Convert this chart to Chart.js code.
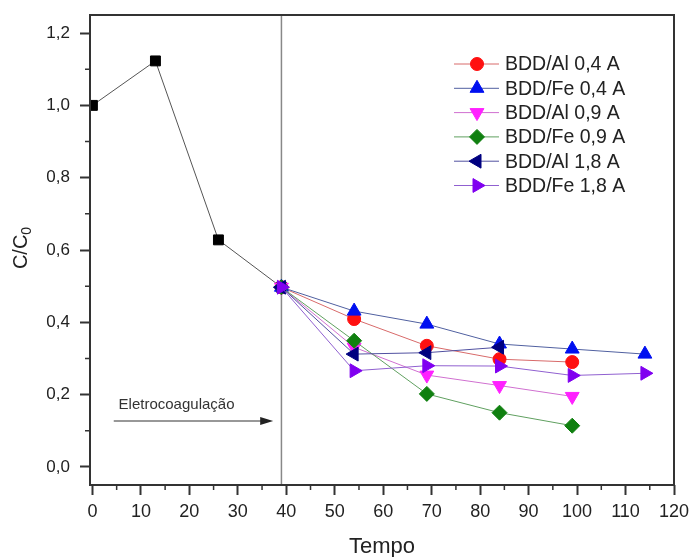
<!DOCTYPE html>
<html>
<head>
<meta charset="utf-8">
<script src="https://cdn.jsdelivr.net/npm/chart.js@4"></script>
<style>
  html, body { margin: 0; padding: 0; background: #fff; }
  #wrap { width: 692px; height: 557px; }
</style>
</head>
<body>
<div id="wrap"><canvas id="c"></canvas></div>
<script>
// times (x)
const preTimes = [0, 13, 26, 39];
const postTimes = [39, 54, 69, 84, 99, 114];
const preValues = [1.0, 1.123, 0.628, 0.497];   // black squares, before electrocoagulation ends

const al04 = [0.497, 0.409, 0.335, 0.298, 0.290];
const fe04 = [0.497, 0.431, 0.395, 0.340, 0.326, 0.312];
const al09 = [0.497, 0.331, 0.254, 0.225, 0.195];
const fe09 = [0.497, 0.349, 0.202, 0.150, 0.114];
const al18 = [0.497, 0.312, 0.316, 0.331];
const fe18 = [0.497, 0.266, 0.280, 0.279, 0.253, 0.259];

const seriesNames = ["BDD/Al 0,4 A", "BDD/Fe 0,4 A", "BDD/Al 0,9 A", "BDD/Fe 0,9 A", "BDD/Al 1,8 A", "BDD/Fe 1,8 A"];
const xTicks = [0, 10, 20, 30, 40, 50, 60, 70, 80, 90, 100, 110, 120];
const yTicks = [0, 0.2, 0.4, 0.6, 0.8, 1.0, 1.2];
const splitTime = 39;

const FONT = "'Liberation Sans', Arial, sans-serif";

function pts(xs, ys) { return ys.map((v, i) => ({ x: xs[i], y: v })); }

function series(i, vals, color, lineColor, style, rot, r) {
  return {
    label: seriesNames[i],
    data: pts(postTimes, vals),
    borderColor: lineColor,
    backgroundColor: color,
    pointBackgroundColor: color,
    pointBorderColor: color,
    pointBorderWidth: 1,
    borderWidth: 1,
    pointStyle: style,
    pointRotation: rot,
    pointRadius: r,
    order: 6 - i,
  };
}

const datasets = [
  series(0, al04, "#ff1010", "#d86a6a", "circle", 0, 6.5),
  series(1, fe04, "#0010f0", "#5060a0", "triangle", 0, 8),
  series(2, al09, "#ff20ff", "#d070d0", "triangle", 180, 8),
  series(3, fe09, "#108010", "#60a060", "rectRot", 0, 7.5),
  series(4, al18, "#000080", "#5050a0", "triangle", 270, 8),
  series(5, fe18, "#8000f0", "#9060d0", "triangle", 90, 8),
  {
    label: "pre",
    data: pts(preTimes, preValues),
    borderColor: "#555",
    backgroundColor: "#000",
    pointBackgroundColor: "#000",
    pointBorderColor: "#000",
    borderWidth: 1,
    pointStyle: "rect",
    pointRadius: 7,
    order: 7,
  },
];

const extras = {
  id: "extras",
  beforeDatasetsDraw(chart) {
    const { ctx, chartArea: a, scales: { x, y } } = chart;
    ctx.save();
    // vertical separator line
    const sx = x.getPixelForValue(splitTime);
    ctx.strokeStyle = "#888";
    ctx.lineWidth = 1.5;
    ctx.beginPath();
    ctx.moveTo(sx, a.top);
    ctx.lineTo(sx, a.bottom);
    ctx.stroke();
    // arrow + label
    const ay = y.getPixelForValue(0.127);
    const ax0 = x.getPixelForValue(4.4), ax1 = x.getPixelForValue(37.3);
    ctx.strokeStyle = "#333";
    ctx.lineWidth = 1.2;
    ctx.beginPath();
    ctx.moveTo(ax0, ay);
    ctx.lineTo(ax1 - 10, ay);
    ctx.stroke();
    ctx.fillStyle = "#222";
    ctx.beginPath();
    ctx.moveTo(ax1, ay);
    ctx.lineTo(ax1 - 13, ay - 4);
    ctx.lineTo(ax1 - 13, ay + 4);
    ctx.closePath();
    ctx.fill();
    ctx.font = "15px " + FONT;
    ctx.fillStyle = "#333";
    ctx.textBaseline = "middle";
    ctx.textAlign = "left";
    ctx.fillText("Eletrocoagulação", x.getPixelForValue(5.4), y.getPixelForValue(0.173));
    ctx.restore();
  },
  afterDraw(chart) {
    const { ctx, chartArea: a, scales: { x, y } } = chart;
    ctx.save();
    // frame
    ctx.strokeStyle = "#333";
    ctx.lineWidth = 2;
    ctx.strokeRect(a.left, a.top, a.right - a.left, a.bottom - a.top);
    // minor ticks
    ctx.lineWidth = 1.5;
    ctx.beginPath();
    for (let v = 5; v < 120; v += 10) {
      const px = x.getPixelForValue(v);
      ctx.moveTo(px, a.bottom);
      ctx.lineTo(px, a.bottom + 5);
    }
    for (let v = 0.1; v < 1.25; v += 0.2) {
      const py = y.getPixelForValue(v);
      ctx.moveTo(a.left, py);
      ctx.lineTo(a.left - 5, py);
    }
    ctx.stroke();
    // axis titles
    ctx.fillStyle = "#222";
    ctx.textAlign = "center";
    ctx.textBaseline = "middle";
    ctx.font = "22px " + FONT;
    ctx.fillText("Tempo", (a.left + a.right) / 2, 547);
    ctx.save();
    ctx.translate(21, 248);
    ctx.rotate(-Math.PI / 2);
    ctx.font = "20px " + FONT;
    const w1 = ctx.measureText("C/C").width;
    ctx.font = "14px " + FONT;
    const w2 = ctx.measureText("0").width;
    const start = -(w1 + w2) / 2;
    ctx.textAlign = "left";
    ctx.font = "20px " + FONT;
    ctx.fillText("C/C", start, 0);
    ctx.font = "14px " + FONT;
    ctx.fillText("0", start + w1, 6);
    ctx.restore();
    // legend
    const draw = Chart.helpers && Chart.helpers.drawPoint;
    for (let i = 0; i < 6; i++) {
      const ds = chart.data.datasets[i];
      const ry = 64 + i * 24.3;
      ctx.strokeStyle = ds.borderColor;
      ctx.lineWidth = 1;
      ctx.beginPath();
      ctx.moveTo(454, ry);
      ctx.lineTo(499, ry);
      ctx.stroke();
      ctx.fillStyle = ds.pointBackgroundColor;
      ctx.strokeStyle = ds.pointBorderColor;
      if (draw) {
        draw(ctx, { pointStyle: ds.pointStyle, rotation: ds.pointRotation || 0, radius: ds.pointRadius, borderWidth: 1 }, 477, ry);
      }
      ctx.fillStyle = "#222";
      ctx.font = "19.5px " + FONT;
      ctx.textAlign = "left";
      ctx.textBaseline = "middle";
      ctx.fillText(ds.label, 505, ry + 1);
    }
    ctx.restore();
  },
};

new Chart("c", {
  type: "scatter",
  data: { datasets: datasets },
  options: {
    responsive: true,
    maintainAspectRatio: false,
    animation: false,
    showLine: true,
    layout: { padding: { top: 15, right: 18, left: 0, bottom: 0 } },
    plugins: { legend: { display: false }, tooltip: { enabled: false } },
    scales: {
      x: {
        type: "linear",
        min: -0.5,
        max: 120,
        afterFit: (s) => { s.height = 72; s.paddingLeft = 0; s.paddingRight = 0; },
        afterBuildTicks: (s) => { s.ticks = xTicks.map(v => ({ value: v })); },
        border: { display: false },
        grid: { drawOnChartArea: false, drawTicks: true, tickLength: 10, tickWidth: 2, tickColor: "#333" },
        ticks: { color: "#222", font: { family: FONT, size: 18 }, padding: 6, maxRotation: 0, autoSkip: false },
      },
      y: {
        min: -0.05,
        max: 1.25,
        afterFit: (s) => { s.width = 90; s.paddingTop = 0; s.paddingBottom = 0; },
        afterBuildTicks: (s) => { s.ticks = yTicks.map(v => ({ value: v })); },
        border: { display: false },
        grid: { drawOnChartArea: false, drawTicks: true, tickLength: 10, tickWidth: 2, tickColor: "#333" },
        ticks: {
          color: "#222", font: { family: FONT, size: 17 }, padding: 10,
          callback: (v) => v.toFixed(1).replace(".", ","),
        },
      },
    },
  },
  plugins: [extras],
});
</script>
</body>
</html>
